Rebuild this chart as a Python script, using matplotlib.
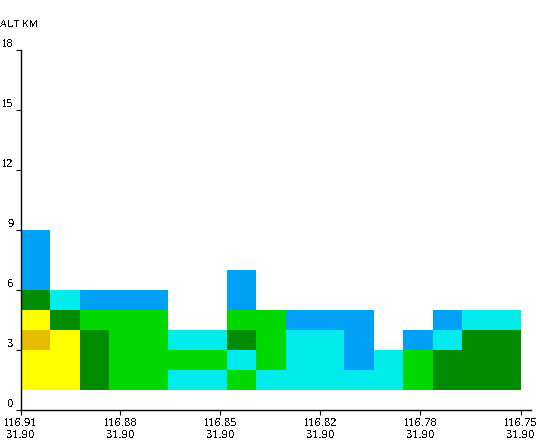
import numpy as np
import matplotlib
matplotlib.use("Agg")
import matplotlib.pyplot as plt
from matplotlib.colors import ListedColormap, BoundaryNorm

plt.rcParams['font.family'] = ['Liberation Serif', 'DejaVu Serif']
plt.rcParams['text.antialiased'] = False
plt.rcParams['text.kerning_factor'] = 6

# Echo class per altitude layer (rows: 1-2 km upward), one entry per column; 0 = no echo
layer_1_2 = [5, 5, 4, 3, 3, 2, 2, 3, 2, 2, 2, 2, 2, 3, 4, 4, 4]
layer_2_3 = [5, 5, 4, 3, 3, 3, 3, 2, 3, 2, 2, 1, 2, 3, 4, 4, 4]
layer_3_4 = [6, 5, 4, 3, 3, 2, 2, 4, 3, 2, 2, 1, 0, 1, 2, 4, 4]
layer_4_5 = [5, 4, 3, 3, 3, 0, 0, 3, 3, 1, 1, 1, 0, 0, 1, 2, 2]
layer_5_6 = [4, 2, 1, 1, 1, 0, 0, 1, 0, 0, 0, 0, 0, 0, 0, 0, 0]
layer_6_7 = [1, 0, 0, 0, 0, 0, 0, 1, 0, 0, 0, 0, 0, 0, 0, 0, 0]
layer_7_8 = [1, 0, 0, 0, 0, 0, 0, 0, 0, 0, 0, 0, 0, 0, 0, 0, 0]
layer_8_9 = [1, 0, 0, 0, 0, 0, 0, 0, 0, 0, 0, 0, 0, 0, 0, 0, 0]

class_colors = ['#00a0f6', '#00ecec', '#00d800', '#008c00', '#ffff00', '#e6bc00']
alt_ticks = [0, 3, 6, 9, 12, 15, 18]
x_positions = [0, 3.4, 6.8, 10.2, 13.6, 17.0]
lon_labels = ['116.91', '116.88', '116.85', '116.82', '116.78', '116.75']
lat_labels = ['31.90', '31.90', '31.90', '31.90', '31.90', '31.90']

W, H = 540, 440
fig = plt.figure(figsize=(W / 100, H / 100), dpi=100, facecolor='white')
ax = fig.add_axes([20.5 / W, (H - 410.1) / H, 510 / W, 360 / H])

grid = np.array([layer_1_2, layer_2_3, layer_3_4, layer_4_5,
                 layer_5_6, layer_6_7, layer_7_8, layer_8_9], dtype=float)
grid[grid == 0] = np.nan
x_edges = np.arange(grid.shape[1] + 1)
y_edges = np.arange(1, grid.shape[0] + 2)
cmap = ListedColormap(class_colors)
norm = BoundaryNorm(np.arange(0.5, 7.5), cmap.N)
ax.pcolormesh(x_edges + 0.01, y_edges, grid, cmap=cmap, norm=norm,
              antialiased=False, linewidth=0)

ax.set_xlim(0, 510 / (500 / 17))
ax.set_ylim(0, 18)
for s in ('top', 'right'):
    ax.spines[s].set_visible(False)
for s in ('left', 'bottom'):
    ax.spines[s].set_linewidth(1.0)
    ax.spines[s].set_color('black')

ax.set_yticks(alt_ticks)
ax.set_yticklabels([str(v) for v in alt_ticks], fontsize=9, va='bottom')
ax.tick_params(axis='y', length=3.5, width=0.8, pad=1.5)
ax.set_xticks(x_positions)
ax.set_xticklabels([f'{a}\n{b}' for a, b in zip(lon_labels, lat_labels)],
                   fontsize=9, linespacing=0.95)
ax.tick_params(axis='x', length=3.5, width=0.8, pad=1.5)

fig.text(0, 1 - 27 / H, 'ALT KM', fontsize=7.2, ha='left', va='baseline')
fig.savefig('out.png', dpi=100, facecolor='white')
